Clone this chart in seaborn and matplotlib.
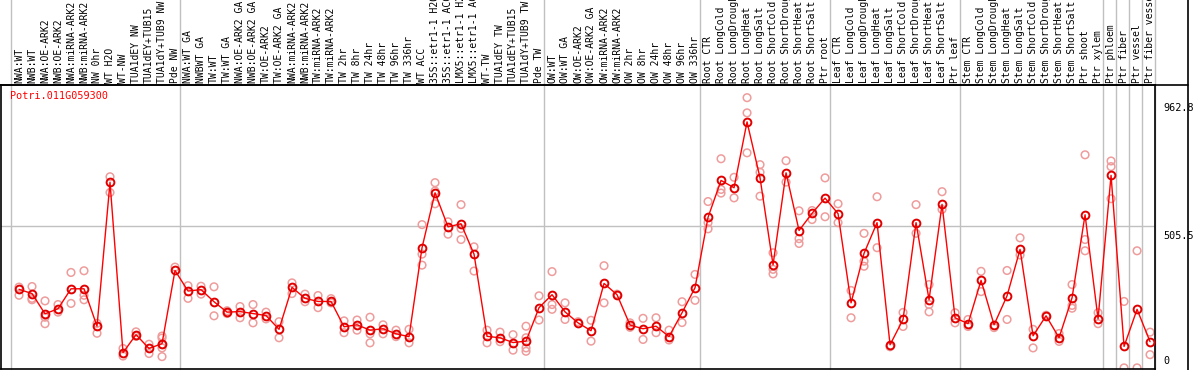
import pandas as pd
import matplotlib.pyplot as plt
import matplotlib.transforms as mtransforms
from matplotlib.lines import Line2D
import seaborn as sns

sns.set_style("white")
plt.rcParams['font.family'] = ['DejaVu Sans Mono']

gene = "Potri.011G059300"

samples = [
    "NWA:WT", "NWB:WT", "NWA:OE-ARK2", "NWB:OE-ARK2", "NWA:miRNA-ARK2", "NWB:miRNA-ARK2",
    "NW 0hr", "WT H2O", "WT-NW", "TUA1dEY NW", "TUA1dEY+TUB15", "TUA1dY+TUB9 NW", "Pde NW",
    "NWA:WT GA", "NWBWT GA", "TW:WT", "TW:WT GA", "NWA:OE-ARK2 GA", "NWB:OE-ARK2 GA",
    "TW:OE-ARK2", "TW:OE-ARK2 GA", "NWA:miRNA-ARK2", "NWB:miRNA-ARK2", "TW:miRNA-ARK2",
    "TW:miRNA-ARK2", "TW 2hr", "TW 8hr", "TW 24hr", "TW 48hr", "TW 96hr", "TW 336hr",
    "WT ACC", "35S::etr1-1 H2O", "35S::etr1-1 ACC", "LMX5::etr1-1 H2O", "LMX5::etr1-1 ACC",
    "WT-TW", "TUA1dEY TW", "TUA1dEY+TUB15", "TUA1dY+TUB9 TW", "Pde TW",
    "OW:WT", "OW:WT GA", "OW:OE-ARK2", "OW:OE-ARK2 GA", "OW:miRNA-ARK2", "OW:miRNA-ARK2",
    "OW 2hr", "OW 8hr", "OW 24hr", "OW 48hr", "OW 96hr", "OW 336hr",
    "Root CTR", "Root LongCold", "Root LongDrought", "Root LongHeat", "Root LongSalt",
    "Root ShortCold", "Root ShortDrought", "Root ShortHeat", "Root ShortSalt", "Ptr root",
    "Leaf CTR", "Leaf LongCold", "Leaf LongDrought", "Leaf LongHeat", "Leaf LongSalt",
    "Leaf ShortCold", "Leaf ShortDrought", "Leaf ShortHeat", "Leaf ShortSalt", "Ptr leaf",
    "Stem CTR", "Stem LongCold", "Stem LongDrought", "Stem LongHeat", "Stem LongSalt",
    "Stem ShortCold", "Stem ShortDrought", "Stem ShortHeat", "Stem ShortSalt", "Ptr shoot",
    "Ptr xylem", "Ptr phloem", "Ptr fiber", "Ptr vessel", "Ptr fiber vessel",
]

means = [
    281, 266, 194, 212, 283, 283, 150, 661, 56, 120, 71, 88, 348, 275, 280, 237, 200, 202, 195, 188, 139, 288,
    249, 238, 238, 148, 155, 136, 141, 123, 113, 429, 624, 503, 514, 406, 114, 109, 92, 97, 216, 262, 201, 162, 134,
    302, 262, 154, 141, 150, 113, 198, 287, 537, 668, 642, 876, 677, 368, 695, 490, 551, 605, 550, 233, 409, 518, 84,
    174, 518, 244, 583, 180, 159, 313, 155, 258, 423, 116, 187, 109, 251, 546, 176, 686, 78, 210, 95,
]

replicates = [
    [289, 260], [291, 249, 244], [240, 159, 182], [227, 200], [341, 231], [347, 244, 260],
    [160, 125], [681, 625], [71, 44], [130, 114], [86, 53], [115, 108, 85, 73, 42], [360],
    [294, 249], [292, 264], [290, 187], [205, 195], [220, 180], [227, 162], [200, 176],
    [166, 109], [304, 266], [264, 237], [259, 216], [248, 233], [169, 127], [172, 136],
    [182, 91, 123], [155, 123], [136, 113], [139, 91], [511, 406, 367], [660, 630, 585],
    [521, 477], [582, 497, 458], [432, 346], [136, 91], [129, 95], [120, 65],
    [150, 109, 73, 61], [258, 172], [344, 227, 210], [233, 174], [166], [171, 97],
    [365, 233], [264], [162, 146], [178, 103], [180, 127], [136, 101], [237, 163],
    [334, 242], [593, 518, 496], [745, 636, 623], [679, 606], [962, 908, 766],
    [724, 697, 612], [411, 352, 336], [738, 662], [560, 461, 444], [561, 529], [677, 539],
    [585, 518], [277, 180], [480, 381, 363], [610, 429], [77], [199, 149], [582, 480],
    [298, 227, 201], [628, 565], [198, 162], [174, 149], [345, 273], [145], [348, 174],
    [464, 403], [139, 73], [189], [124, 96], [298, 224, 214], [759, 458, 418], [198, 159],
    [737, 717, 603], [238, 2], [418, 2], [129, 49],
]

y_ticks = [0, 505.5, 962.8]
# sample index after which a group separator is drawn
group_ends = [-1, 12, 40, 52, 62, 72, 83, 84, 85, 86, 87]

df_mean = pd.DataFrame({"pos": range(len(samples)), "value": means})
df_rep = pd.DataFrame(
    [(i, v) for i, reps in enumerate(replicates) for v in reps], columns=["pos", "value"]
)

W, H = 1194, 370
fig = plt.figure(figsize=(W / 100, H / 100), dpi=100)
ax = fig.add_axes([1 / W, 1 / H, 1154 / W, 284 / H])

grid_col = "#c0c0c0"
for g in group_ends:
    ax.axvline(g + 0.38, ymin=0, ymax=1.31, clip_on=False, color=grid_col, lw=1, zorder=0)
ax.axhline(y_ticks[1], color=grid_col, lw=1, zorder=0)

sns.scatterplot(data=df_rep, x="pos", y="value", ax=ax, marker="o", s=30,
                fc="none", ec="#ee9c9c", linewidth=1.1, zorder=2)
sns.lineplot(data=df_mean, x="pos", y="value", ax=ax, color="red", lw=1,
             marker="o", markersize=5.6, markerfacecolor="none",
             markeredgecolor="#e00000", markeredgewidth=1.4, zorder=3)

ax.set_xlim(-1.385, 87.38)
ax.set_ylim(-2, 1007)
ax.set_xticks([])
ax.set_yticks([])
ax.set_xlabel("")
ax.set_ylabel("")
for s in ax.spines.values():
    s.set_color("black")
    s.set_linewidth(1.2)

# sample labels above the plot
trans = mtransforms.blended_transform_factory(ax.transData, ax.transAxes)
for i, name in enumerate(samples):
    ax.text(i, 1 + 2 / 284, name, transform=trans, rotation=90, ha="center",
            va="bottom", fontsize=7, color="black", clip_on=False)

ax.text(9 / 1154, 1 - 6 / 284, gene, transform=ax.transAxes, color="red",
        fontsize=7.3, ha="left", va="top")

# value labels on the right
trans_r = mtransforms.blended_transform_factory(ax.transAxes, ax.transData)
for t in y_ticks:
    va = "bottom" if t == 0 else "top"
    ax.text(1 + 8 / 1154, t + (8 if t == 0 else -18), f"{t:g}", transform=trans_r,
            ha="left", va=va, fontsize=7.3, color="black")

# outer frame lines
fig.add_artist(Line2D([0, 1188 / W], [1 - 85 / H, 1 - 85 / H], color="black", lw=1.2))
fig.add_artist(Line2D([1188 / W, 1188 / W], [0, 1], color="black", lw=1.2))

fig.savefig("out.png", dpi=100)
